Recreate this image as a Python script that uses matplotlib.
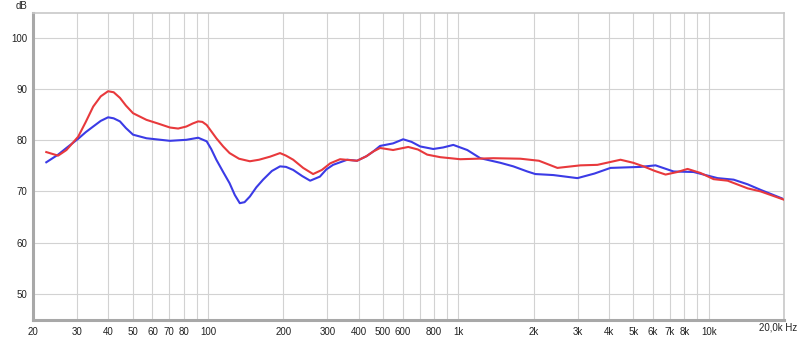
import matplotlib
matplotlib.use("Agg")
import matplotlib.pyplot as plt

red_freq = [22.6, 25.2, 27.2, 30.3, 32.5, 34.8, 37.3, 39.9, 42, 44.5, 47, 50.2, 56.8, 63, 70.5, 76, 82,
            87, 91.4, 95, 98.8, 108, 115, 122, 133, 147, 160, 177, 194, 205, 219, 240, 263, 285, 308,
            337, 394, 430, 457, 487, 549, 631, 690, 751, 847,
            1018, 1380, 1770, 2100, 2488, 3074, 3596, 4446, 5000, 5494, 6100, 6728, 7500, 8238, 9288,
            10468, 11910, 14316, 16138, 19945]
red_db = [77.7, 77.0, 78.1, 80.7, 83.6, 86.6, 88.6, 89.6, 89.4, 88.3, 86.8, 85.3, 84.0, 83.3, 82.5, 82.3, 82.7,
          83.3, 83.7, 83.6, 83.0, 80.4, 78.8, 77.5, 76.4, 75.9, 76.2, 76.8, 77.5, 77.0, 76.2, 74.6, 73.4, 74.2, 75.5,
          76.3, 76.0, 76.9, 77.8, 78.5, 78.1, 78.7, 78.2, 77.2, 76.7,
          76.3, 76.5, 76.4, 76.0, 74.6, 75.1, 75.2, 76.2, 75.6, 74.9, 74.0, 73.3, 73.8, 74.4, 73.6,
          72.4, 72.1, 70.6, 70.0, 68.4]

blue_freq = [22.6, 25.2, 27.2, 30.3, 32.5, 34.8, 37.3, 39.9, 42, 44.5, 47, 50.2, 56.8, 70.5, 82, 91.4, 98.8,
             103, 108, 115, 122, 128, 134, 140, 147, 156, 166, 180, 194, 205, 219, 238, 256, 280, 297, 316,
             360, 394, 430, 457, 487, 549, 602, 650, 704, 794, 870, 955, 1086, 1224, 1472, 1659, 1887, 2031,
             2398, 2991, 3500, 4054, 5345, 6135, 7244, 8710, 10860, 12586, 14300, 16138, 19945]
blue_db = [75.7, 77.2, 78.5, 80.3, 81.6, 82.7, 83.8, 84.5, 84.3, 83.7, 82.4, 81.1, 80.4, 79.9, 80.1, 80.5, 79.8,
           78.3, 76.2, 73.8, 71.6, 69.3, 67.7, 67.9, 69.0, 70.8, 72.3, 74.0, 74.9, 74.8, 74.2, 73.0, 72.1, 72.9, 74.3, 75.2,
           76.2, 76.0, 76.9, 77.8, 78.9, 79.4, 80.2, 79.7, 78.8, 78.3, 78.6, 79.1, 78.1, 76.5, 75.6, 74.9, 73.9, 73.4,
           73.2, 72.6, 73.5, 74.6, 74.8, 75.1, 73.9, 73.8, 72.6, 72.3, 71.4, 70.3, 68.5]

x_grid = [20, 30, 40, 50, 60, 70, 80, 90, 100, 200, 300, 400, 500, 600, 700, 800, 900,
          1000, 2000, 3000, 4000, 5000, 6000, 7000, 8000, 9000, 10000, 20000]
x_ticks = [20, 30, 40, 50, 60, 70, 80, 100, 200, 300, 400, 500, 600, 800,
           1000, 2000, 3000, 4000, 5000, 6000, 7000, 8000, 10000]
x_labels = ["20", "30", "40", "50", "60", "70", "80", "100", "200", "300", "400", "500", "600", "800",
            "1k", "2k", "3k", "4k", "5k", "6k", "7k", "8k", "10k"]
y_ticks = [50, 60, 70, 80, 90, 100]

plt.rcParams["font.family"] = ["Liberation Sans", "DejaVu Sans"]

fig = plt.figure(figsize=(8, 3.37), dpi=100)
ax = fig.add_axes([33/800, 1-320/337, 751/800, (320-12.5)/337])
ax.set_xscale("log")
ax.set_xlim(20, 20000)
ax.set_ylim(44.85, 105)

for g in x_grid:
    ax.axvline(g, color="#d2d2d2", lw=0.8, zorder=1)
for g in y_ticks:
    ax.axhline(g, color="#d2d2d2", lw=0.8, zorder=1)

ax.plot(red_freq, red_db, color="#e8393c", lw=1.5, zorder=3, solid_joinstyle="round")
ax.plot(blue_freq, blue_db, color="#3b3be6", lw=1.5, zorder=2, solid_joinstyle="round")

ax.minorticks_off()
ax.set_xticks(x_ticks)
ax.set_xticklabels(x_labels)
ax.set_yticks(y_ticks)
ax.set_yticklabels([str(v) for v in y_ticks])
ax.tick_params(axis="both", length=0, labelsize=7, colors="#222222")
ax.tick_params(axis="x", pad=5)
ax.tick_params(axis="y", pad=4)

for s in ["left", "bottom"]:
    ax.spines[s].set_color("#a8a8a8")
    ax.spines[s].set_linewidth(2.2)
for s in ["top", "right"]:
    ax.spines[s].set_color("#c8c8c8")
    ax.spines[s].set_linewidth(1.2)

fig.text(797/800, 1-328/337, "20,0k Hz", ha="right", va="center", fontsize=7, color="#222222")
fig.text(22/800, 1-6/337, "dB", ha="center", va="center", fontsize=7, color="#222222")

fig.savefig("out.png", dpi=100, facecolor="white")
